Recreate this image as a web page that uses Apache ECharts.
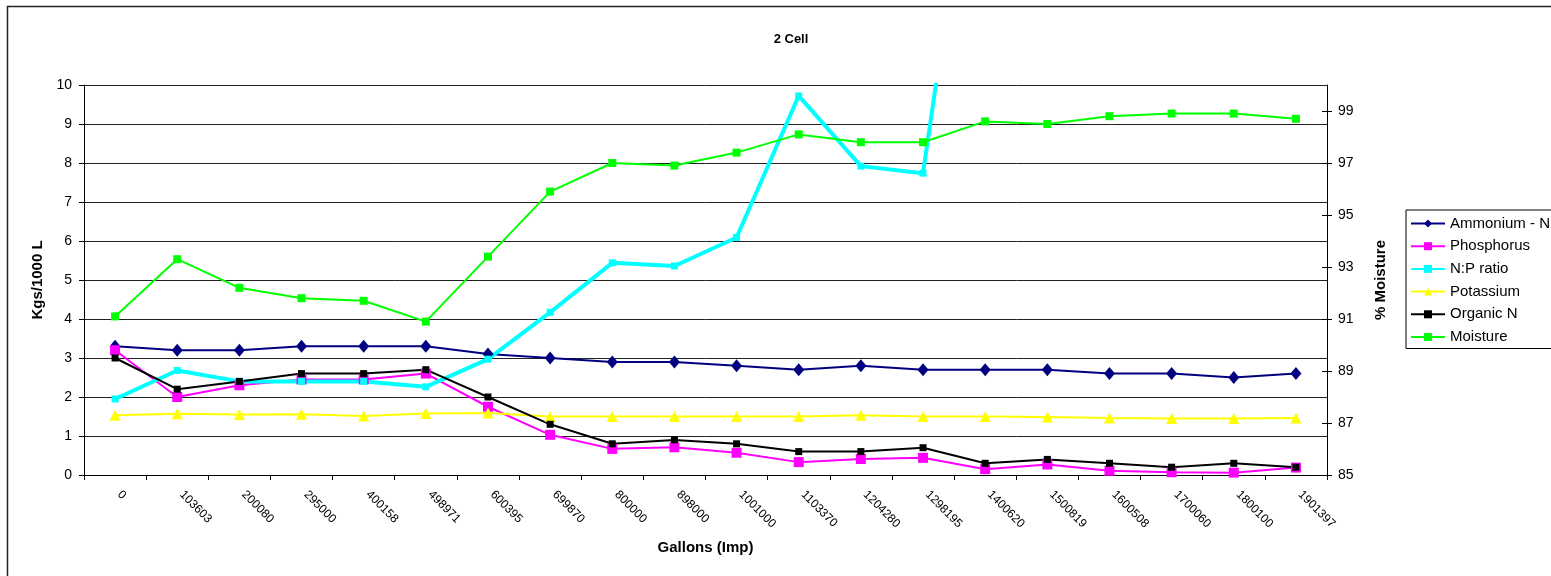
<!DOCTYPE html>
<html>
<head>
<meta charset="utf-8">
<script src="https://cdn.jsdelivr.net/npm/echarts@6/dist/echarts.min.js"></script>
<style>
  html, body { margin: 0; padding: 0; background: #fff; }
  #chart { width: 1551px; height: 576px; }
</style>
</head>
<body>
<div id="chart"></div>
<script>
const categories = ['0','103603','200080','295000','400158','498971','600395','699870','800000','898000','1001000','1103370','1204280','1298195','1400620','1500819','1600508','1700060','1800100','1901397'];
const ammonium = [3.3, 3.2, 3.2, 3.3, 3.3, 3.3, 3.1, 3.0, 2.9, 2.9, 2.8, 2.7, 2.8, 2.7, 2.7, 2.7, 2.6, 2.6, 2.5, 2.6];
const phosphorus = [3.2, 2.0, 2.3, 2.45, 2.45, 2.6, 1.75, 1.03, 0.67, 0.71, 0.57, 0.33, 0.41, 0.44, 0.15, 0.27, 0.11, 0.07, 0.06, 0.19];
const npRatio = [1.95, 2.68, 2.4, 2.4, 2.4, 2.26, 2.97, 4.17, 5.44, 5.36, 6.09, 9.72, 7.92, 7.74, 18.7, 11.5, 26, 40, 47, 14.7];
const potassium = [1.53, 1.57, 1.55, 1.56, 1.51, 1.58, 1.59, 1.5, 1.5, 1.5, 1.5, 1.5, 1.53, 1.5, 1.5, 1.49, 1.46, 1.45, 1.45, 1.46];
const organicN = [3.0, 2.2, 2.4, 2.6, 2.6, 2.7, 2.0, 1.3, 0.8, 0.9, 0.8, 0.6, 0.6, 0.7, 0.3, 0.4, 0.3, 0.2, 0.3, 0.2];
const moisture = [91.1, 93.3, 92.2, 91.8, 91.7, 90.9, 93.4, 95.9, 97.0, 96.9, 97.4, 98.1, 97.8, 97.8, 98.6, 98.5, 98.8, 98.9, 98.9, 98.7];
const leftTicks = [0, 1, 2, 3, 4, 5, 6, 7, 8, 9, 10];
const rightTicks = [85, 87, 89, 91, 93, 95, 97, 99];

const FONT = '"Liberation Sans", Arial, sans-serif';
const chart = echarts.init(document.getElementById('chart'), null, { renderer: 'canvas' });

function lineSeries(name, data, color, width, symbol, size, yAxisIndex) {
  return {
    name: name,
    type: 'line',
    data: data,
    yAxisIndex: yAxisIndex || 0,
    symbol: symbol,
    symbolSize: size,
    showSymbol: true,
    showAllSymbol: true,
    lineStyle: { color: color, width: width },
    itemStyle: { color: color, borderWidth: 0 },
    emphasis: { disabled: true }
  };
}

chart.setOption({
  animation: false,
  backgroundColor: '#fff',
  textStyle: { fontFamily: FONT },
  title: {
    text: '2 Cell',
    left: 786,
    top: 28,
    textAlign: 'center',
    textStyle: { fontFamily: FONT, fontSize: 13, fontWeight: 'bold', color: '#000' }
  },
  graphic: [{
    type: 'rect',
    shape: { x: 7.5, y: 6.5, width: 1700, height: 700 },
    style: { fill: 'none', stroke: '#222', lineWidth: 1.5 },
    silent: true,
    z: -10
  }],
  legend: {
    orient: 'vertical',
    left: 1406,
    top: 210,
    padding: [6, 5, 4, 4],
    itemGap: 7.7,
    itemWidth: 34,
    itemHeight: 10,
    borderColor: '#000',
    borderWidth: 1,
    textStyle: { fontFamily: FONT, fontSize: 15, lineHeight: 15, color: '#000' },
    data: ['Ammonium - N', 'Phosphorus', 'N:P ratio', 'Potassium', 'Organic N', 'Moisture']
  },
  grid: { left: 84, right: 224, top: 85, bottom: 101, containLabel: false },
  xAxis: {
    type: 'category',
    data: categories,
    boundaryGap: true,
    name: 'Gallons (Imp)',
    nameLocation: 'middle',
    nameGap: 65,
    nameTextStyle: { fontFamily: FONT, fontSize: 15, fontWeight: 'bold', color: '#000' },
    axisLine: { lineStyle: { color: '#000', width: 1 } },
    axisTick: { show: true, inside: false, length: 5, alignWithLabel: false, lineStyle: { color: '#000' } },
    axisLabel: {
      rotate: -45, interval: 0, margin: 22, align: 'left', verticalAlign: 'bottom',
      fontFamily: FONT, fontSize: 12, color: '#000'
    },
    splitLine: { show: false }
  },
  yAxis: [{
    type: 'value',
    min: 0, max: 10, interval: 1,
    position: 'left',
    name: 'Kgs/1000 L',
    nameLocation: 'middle',
    nameRotate: 90,
    nameGap: 38,
    nameTextStyle: { fontFamily: FONT, fontSize: 15, fontWeight: 'bold', color: '#000' },
    axisLine: { show: true, lineStyle: { color: '#000', width: 1 } },
    axisTick: { show: true, length: 5, lineStyle: { color: '#000' } },
    axisLabel: { margin: 12, fontFamily: FONT, fontSize: 14, color: '#000' },
    splitLine: { show: true, lineStyle: { color: '#222', width: 1 } }
  }, {
    type: 'value',
    min: 85, max: 100, interval: 2,
    position: 'right',
    name: '% Moisture',
    nameLocation: 'middle',
    nameRotate: 90,
    nameGap: 46,
    nameTextStyle: { fontFamily: FONT, fontSize: 15, fontWeight: 'bold', color: '#000' },
    axisLine: { show: true, lineStyle: { color: '#000', width: 1 } },
    axisTick: { show: true, length: 5, customValues: rightTicks, lineStyle: { color: '#000' } },
    axisLabel: { margin: 11, customValues: rightTicks, fontFamily: FONT, fontSize: 14, color: '#000' },
    splitLine: { show: false }
  }, {
    type: 'value',
    min: 85, max: 100, interval: 2,
    position: 'right',
    axisLine: { show: false },
    axisTick: { show: true, inside: true, length: 5, customValues: rightTicks, lineStyle: { color: '#000' } },
    axisLabel: { show: false },
    splitLine: { show: false }
  }],
  series: [
    lineSeries('Ammonium - N', ammonium, '#000080', 2, 'diamond', [11, 13]),
    lineSeries('Phosphorus', phosphorus, '#FF00FF', 2, 'rect', 10),
    lineSeries('N:P ratio', npRatio, '#00FFFF', 4, 'rect', 7),
    lineSeries('Potassium', potassium, '#FFFF00', 2, 'triangle', 11),
    lineSeries('Organic N', organicN, '#000000', 2, 'rect', 7),
    lineSeries('Moisture', moisture, '#00FF00', 2, 'rect', 8, 1)
  ]
});
</script>
</body>
</html>
